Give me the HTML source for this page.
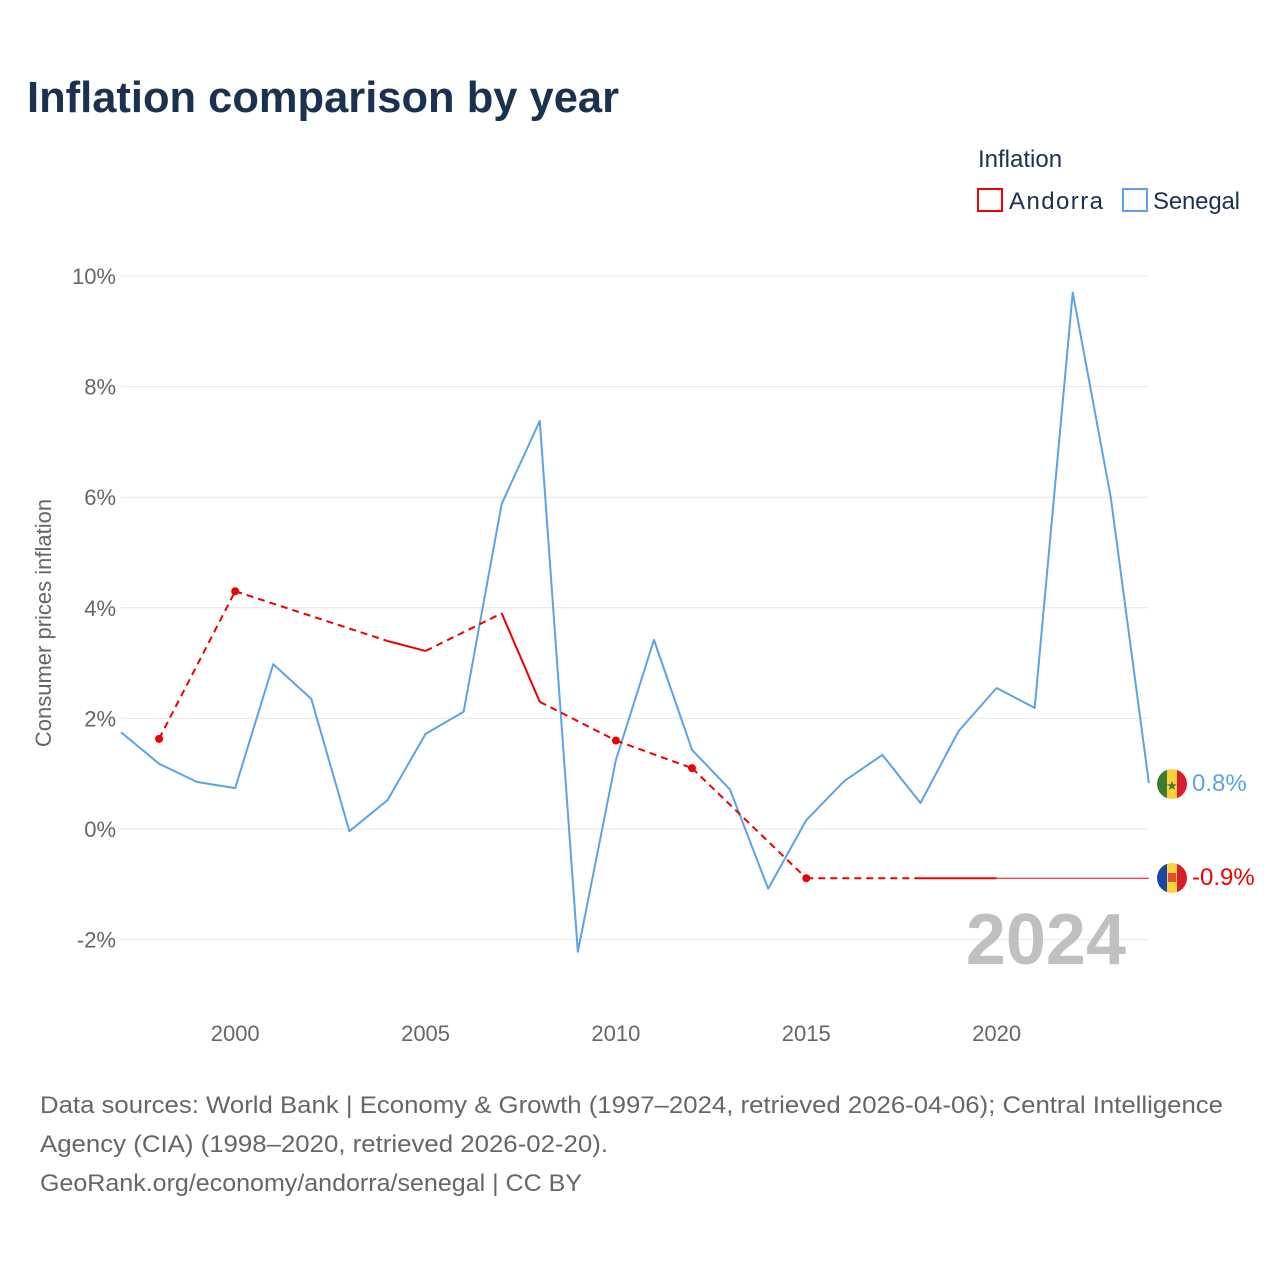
<!DOCTYPE html>
<html><head><meta charset="utf-8"><style>
body{margin:0;background:#fff;font-family:"Liberation Sans",sans-serif;}
svg text{font-family:"Liberation Sans",sans-serif;}
</style></head><body>
<svg width="1280" height="1280" xmlns="http://www.w3.org/2000/svg" id="chart">
<text x="27" y="112" font-size="44" font-weight="bold" fill="#1a3150" textLength="592" lengthAdjust="spacingAndGlyphs">Inflation comparison by year</text>
<text x="978" y="167" font-size="24" fill="#1a3150">Inflation</text>
<g><rect x="978" y="189" width="24" height="22" fill="none" stroke="#e00" stroke-width="2"/><text x="1009" y="209" font-size="24" fill="#1a3150" textLength="94">Andorra</text></g>
<g><rect x="1123" y="189" width="24" height="22" fill="none" stroke="#5ba3e6" stroke-width="2"/><text x="1153" y="209" font-size="24" fill="#1a3150" textLength="87">Senegal</text></g>
<g id="grid"></g><g id="xt"></g><g id="series"></g>
<text transform="translate(51,623) rotate(-90)" text-anchor="middle" font-size="22" fill="#666">Consumer prices inflation</text>
<text x="1126" y="964" text-anchor="end" font-size="72" font-weight="bold" fill="#c0c0c0">2024</text>
<text x="40" y="1113" font-size="24" fill="#666" textLength="1183" lengthAdjust="spacingAndGlyphs">Data sources: World Bank | Economy &amp; Growth (1997–2024, retrieved 2026-04-06); Central Intelligence</text>
<text x="40" y="1152" font-size="24" fill="#666" textLength="568" lengthAdjust="spacingAndGlyphs">Agency (CIA) (1998–2020, retrieved 2026-02-20).</text>
<text x="40" y="1191" font-size="24" fill="#666" textLength="542" lengthAdjust="spacingAndGlyphs">GeoRank.org/economy/andorra/senegal | CC BY</text>
<g><clipPath id="c1"><circle cx="1172" cy="784" r="15"/></clipPath><g clip-path="url(#c1)"><rect x="1157" y="769" width="10" height="30" fill="#3f7a34"/><rect x="1167" y="769" width="10" height="30" fill="#fcd23c"/><rect x="1177" y="769" width="10" height="30" fill="#d81d2c"/></g><text x="1172" y="790" text-anchor="middle" font-size="13" fill="#3f7a34">★</text></g>
<text x="1192" y="791" font-size="24" fill="#5ba3e6">0.8%</text>
<g><clipPath id="c2"><circle cx="1172" cy="878" r="15"/></clipPath><g clip-path="url(#c2)"><rect x="1157" y="863" width="10" height="30" fill="#1b46a5"/><rect x="1167" y="863" width="10" height="30" fill="#fcd23c"/><rect x="1177" y="863" width="10" height="30" fill="#d81d2c"/></g><rect x="1168" y="873" width="8" height="9" fill="#e05030"/></g>
<text x="1192" y="885" font-size="24" fill="#e00">-0.9%</text>
</svg>
<script>
const years=[1997,1998,1999,2000,2001,2002,2003,2004,2005,2006,2007,2008,2009,2010,2011,2012,2013,2014,2015,2016,2017,2018,2019,2020,2021,2022,2023,2024];
const senegal=[1.75,1.18,0.85,0.74,2.98,2.35,-0.04,0.52,1.72,2.12,5.88,7.38,-2.22,1.25,3.42,1.43,0.71,-1.08,0.16,0.87,1.34,0.47,1.77,2.55,2.19,9.70,5.99,0.83];
const andorra=[null,1.63,null,4.30,null,null,null,3.40,3.22,null,3.90,2.30,null,1.60,null,1.10,null,null,-0.89,null,null,-0.89,-0.89,-0.89,null,null,null,null];
const yTicks=[-2,0,2,4,6,8,10];
const xTicks=[2000,2005,2010,2015,2020];
const NS="http://www.w3.org/2000/svg";
const X=y=>121+(y-1997)*38.07, Y=v=>829-v*55.3;
function mk(t,a,p){const e=document.createElementNS(NS,t);for(const k in a)e.setAttribute(k,a[k]);document.getElementById(p).appendChild(e);return e;}
yTicks.forEach(v=>{
 const l=mk('line',{x1:121,x2:1148,y1:Y(v),y2:Y(v),stroke:'#e6e6e6','stroke-width':1},'grid');
 
 
 const t=mk('text',{x:116,y:Y(v)+8,'text-anchor':'end','font-size':22,fill:'#666'},'grid');t.textContent=v+'%';
 
 
});
xTicks.forEach(v=>{
 const t=mk('text',{x:X(v),y:1041,'text-anchor':'middle','font-size':22,fill:'#666'},'xt');t.textContent=v;
 
 
});
const sp=senegal.map((v,i)=>X(years[i])+','+Y(v)).join(' ');
const sl=mk('polyline',{points:sp,fill:'none',stroke:'#5ba3e6','stroke-width':2,'stroke-linejoin':'round'},'series');


const idx=andorra.map((v,i)=>v===null?-1:i).filter(i=>i>=0);
for(let k=0;k<idx.length-1;k++){
 const a=idx[k],b=idx[k+1],gap=b-a>1;
 const s=mk('line',{x1:X(years[a]),y1:Y(andorra[a]),x2:X(years[b]),y2:Y(andorra[b]),stroke:'#e00','stroke-width':2,'stroke-dasharray':gap?'7,5':'none'},'series');
 
 
}
const last=idx[idx.length-1];
const ext=mk('line',{x1:X(years[last]),y1:Y(andorra[last]),x2:X(years[years.length-1]),y2:Y(andorra[last]),stroke:'#e00','stroke-width':1},'series');


idx.forEach(i=>{
 const solo=!(andorra[i-1]!=null&&i>0)&&!(andorra[i+1]!=null);
 if(solo){const c=mk('circle',{cx:X(years[i]),cy:Y(andorra[i]),r:4,fill:'#e00'},'series');
 
 }
});
</script>
</body></html>
